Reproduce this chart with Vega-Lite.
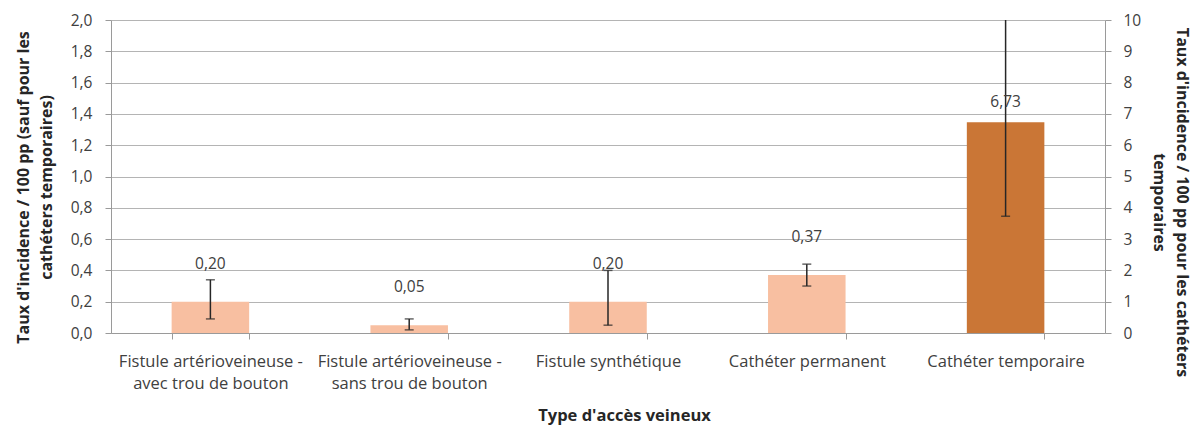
{
  "$schema": "https://vega.github.io/schema/vega-lite/v6.json",
  "width": 994,
  "height": 313,
  "autosize": {"type": "none"},
  "padding": {"left": 111, "top": 20, "right": 89, "bottom": 93},
  "background": "white",
  "config": {
    "font": "Open Sans",
    "view": {"stroke": null},
    "axis": {"labelFont": "Open Sans", "titleFont": "Open Sans", "labelColor": "#404040", "titleColor": "#262626", "domainColor": "#9a9a9a", "tickColor": "#9a9a9a", "gridColor": "#b4b4b4"},
    "axisLeft": {
      "titleFontSize": 16,
      "titleFontWeight": "bold",
      "titleLineHeight": 23,
      "titlePadding": 16,
      "titleY": 167,
      "values": [0, 0.2, 0.4, 0.6, 0.8, 1.0, 1.2, 1.4, 1.6, 1.8, 2.0],
      "labelExpr": "replace(format(datum.value, '.1f'), '.', ',')",
      "labelFontSize": 15.5,
      "labelPadding": 13,
      "tickSize": 6,
      "grid": true
    },
    "axisRight": {
      "titleFontSize": 16,
      "titleFontWeight": "bold",
      "titleLineHeight": 23,
      "titlePadding": 10,
      "titleY": 182,
      "values": [0, 1, 2, 3, 4, 5, 6, 7, 8, 9, 10],
      "labelFontSize": 15.5,
      "labelPadding": 12,
      "tickSize": 6,
      "grid": false
    }
  },
  "data": {
    "values": [
      {"type": "Fistule artérioveineuse - avec trou de bouton", "value": 0.20, "lo": 0.09, "hi": 0.34, "axis": "left"},
      {"type": "Fistule artérioveineuse - sans trou de bouton", "value": 0.05, "lo": 0.02, "hi": 0.09, "axis": "left"},
      {"type": "Fistule synthétique", "value": 0.20, "lo": 0.05, "hi": 0.40, "axis": "left"},
      {"type": "Cathéter permanent", "value": 0.37, "lo": 0.30, "hi": 0.44, "axis": "left"},
      {"type": "Cathéter temporaire", "value": 6.73, "lo": 3.73, "hi": 10, "axis": "right"}
    ]
  },
  "encoding": {
    "x": {
      "field": "type",
      "type": "nominal",
      "sort": null,
      "scale": {
        "domain": ["Fistule artérioveineuse - avec trou de bouton", "Fistule artérioveineuse - sans trou de bouton", "Fistule synthétique", "Cathéter permanent", "Cathéter temporaire"],
        "paddingInner": 0.61,
        "paddingOuter": 0.305
      },
      "axis": {
        "title": "Type d'accès veineux",
        "titleFontSize": 16.5,
        "titleFontWeight": "bold",
        "titlePadding": 16,
        "titleX": 513,
        "labelAngle": 0,
        "labelFontSize": 16.5,
        "labelLimit": 0,
        "labelLineHeight": 22,
        "labelPadding": 14,
        "tickBand": "extent",
        "tickSize": 6,
        "labelExpr": "indexof(datum.label, ' - ') > 0 ? [slice(datum.label, 0, indexof(datum.label, ' - ') + 2), slice(datum.label, indexof(datum.label, ' - ') + 3)] : datum.label"
      }
    }
  },
  "layer": [
    {
      "transform": [{"filter": "datum.axis == 'left'"}],
      "encoding": {
        "y": {"type": "quantitative", "scale": {"domain": [0, 2], "nice": false, "zero": true}, "axis": {"orient": "left"}}
      },
      "layer": [
        {
          "mark": {"type": "bar", "color": "#F8BFA1"},
          "encoding": {"y": {"field": "value", "type": "quantitative", "title": ["Taux d'incidence  / 100 pp (sauf pour les", "cathéters temporaires)"], "axis": {"orient": "left"}}}
        },
        {
          "mark": {"type": "rule", "color": "#262626", "strokeWidth": 1.5},
          "encoding": {
            "y": {"field": "lo", "type": "quantitative", "title": ["Taux d'incidence  / 100 pp (sauf pour les", "cathéters temporaires)"], "axis": {"orient": "left"}},
            "y2": {"field": "hi"}
          }
        },
        {
          "mark": {"type": "tick", "orient": "horizontal", "color": "#262626", "thickness": 1.5, "size": 9},
          "encoding": {"y": {"field": "lo", "type": "quantitative", "title": ["Taux d'incidence  / 100 pp (sauf pour les", "cathéters temporaires)"], "axis": {"orient": "left"}}}
        },
        {
          "mark": {"type": "tick", "orient": "horizontal", "color": "#262626", "thickness": 1.5, "size": 9},
          "encoding": {"y": {"field": "hi", "type": "quantitative", "title": ["Taux d'incidence  / 100 pp (sauf pour les", "cathéters temporaires)"], "axis": {"orient": "left"}}}
        },
        {
          "mark": {"type": "text", "baseline": "middle", "align": "center", "dy": -38, "fontSize": 15.5, "color": "#404040", "font": "Open Sans", "text": {"expr": "replace(format(datum.value, '.2f'), '.', ',')"}},
          "encoding": {"y": {"field": "value", "type": "quantitative", "title": ["Taux d'incidence  / 100 pp (sauf pour les", "cathéters temporaires)"], "axis": {"orient": "left"}}}
        }
      ]
    },
    {
      "transform": [{"filter": "datum.axis == 'right'"}],
      "layer": [
        {
          "mark": {"type": "bar", "color": "#CA7636"},
          "encoding": {"y": {"field": "value", "type": "quantitative", "title": ["Taux d'incidence  / 100 pp pour les cathéters", "temporaires"], "scale": {"domain": [0, 10], "nice": false, "zero": true}, "axis": {"orient": "right"}}}
        },
        {
          "mark": {"type": "rule", "color": "#262626", "strokeWidth": 1.5},
          "encoding": {
            "y": {"field": "lo", "type": "quantitative", "title": ["Taux d'incidence  / 100 pp pour les cathéters", "temporaires"], "axis": {"orient": "right"}},
            "y2": {"field": "hi"}
          }
        },
        {
          "mark": {"type": "tick", "orient": "horizontal", "color": "#262626", "thickness": 1.5, "size": 9},
          "encoding": {"y": {"field": "lo", "type": "quantitative", "title": ["Taux d'incidence  / 100 pp pour les cathéters", "temporaires"], "axis": {"orient": "right"}}}
        },
        {
          "mark": {"type": "text", "baseline": "middle", "align": "center", "dy": -20, "fontSize": 15.5, "color": "#404040", "font": "Open Sans", "text": {"expr": "replace(format(datum.value, '.2f'), '.', ',')"}},
          "encoding": {"y": {"field": "value", "type": "quantitative", "title": ["Taux d'incidence  / 100 pp pour les cathéters", "temporaires"], "axis": {"orient": "right"}}}
        }
      ]
    }
  ],
  "resolve": {"scale": {"y": "independent"}}
}
